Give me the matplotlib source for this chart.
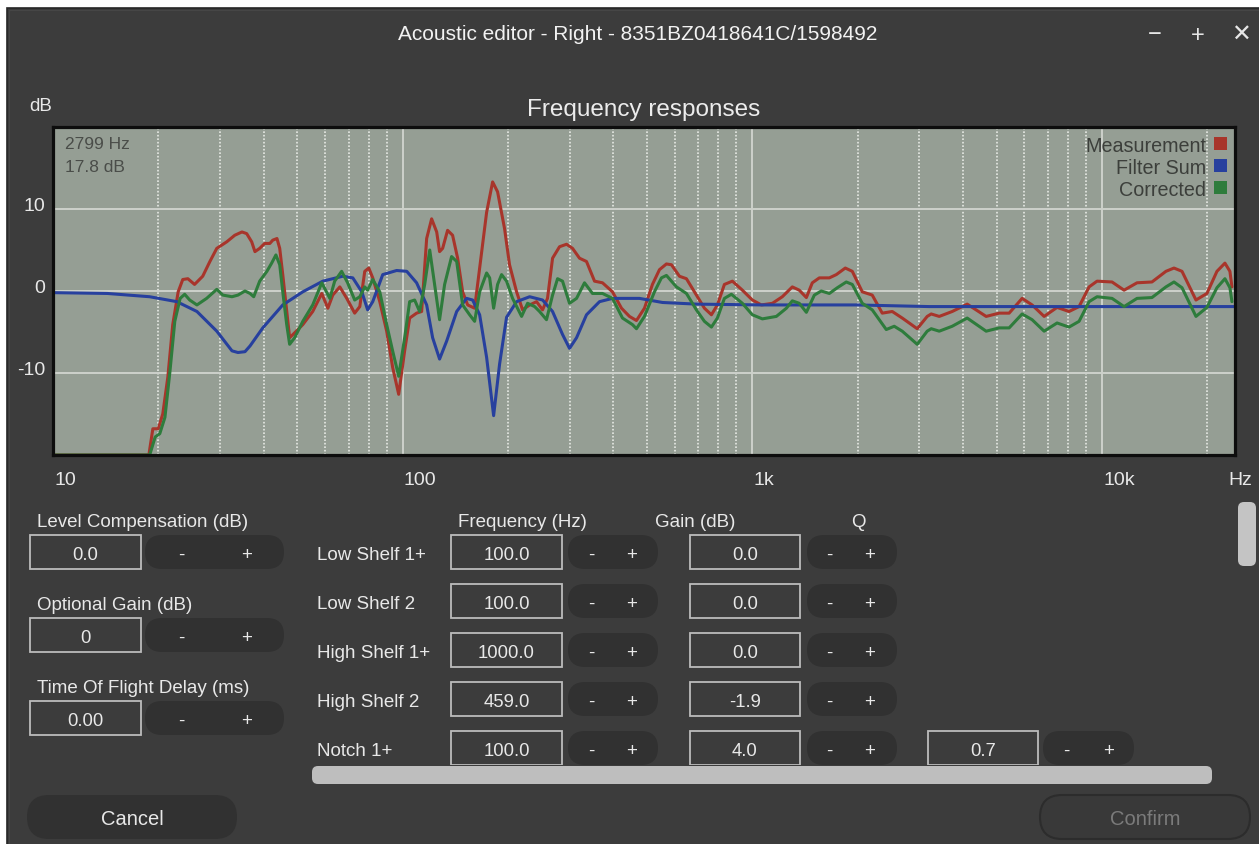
import numpy as np
import matplotlib
matplotlib.use("Agg")
import matplotlib.pyplot as plt
from matplotlib.patches import Rectangle, FancyBboxPatch
from matplotlib.ticker import NullFormatter
import matplotlib.transforms as mtransforms

plt.rcParams['font.family'] = ['Liberation Sans', 'DejaVu Sans']

# ---------------------------------------------------------------- data
# (frequency Hz, level dB)
measurement = [
    (10, -20), (18.8, -20), (19.3, -16.8), (20.0, -16.8), (20.6, -15.0), (21.3, -10.5), (22.0, -4.1),
    (22.8, -0.1), (23.5, 1.4), (24.3, 1.5), (25.4, 0.8), (26.8, 1.8), (28.1, 3.6), (29.4, 5.2),
    (31.4, 6.0), (33.1, 6.8), (34.7, 7.2), (35.8, 7.0), (37.0, 6.0), (37.8, 4.8), (39.0, 5.2),
    (40.3, 5.8), (41.7, 5.8), (42.5, 6.2), (43.7, 6.4), (44.5, 5.2), (45.4, 2.0), (46.6, -2.5),
    (47.5, -5.7), (49.1, -5.1), (51.8, -4.1), (55.3, -2.5), (58.7, -0.3), (61.1, -2.1), (63.1, -0.5),
    (66.1, 0.5), (69.2, -0.9), (72.9, -2.7), (75.4, -1.9), (77.9, 2.4), (80.0, 2.8), (82.1, 1.6),
    (86.0, -1.3), (90.0, -4.9), (93.6, -9.3), (97.4, -12.6), (101.3, -7.3), (104.7, -3.3),
    (109.6, -2.7), (113.3, -2.5), (117.1, 6.4), (121.0, 8.8), (125.1, 7.2), (127.5, 4.8),
    (130.1, 5.2), (134.4, 7.4), (138.9, 6.8), (143.6, 4.0), (148.4, -0.1), (153.4, -1.7),
    (160.6, -2.1), (166.0, 2.8), (173.8, 9.6), (180.8, 13.3), (186.8, 12.1), (195.6, 7.6),
    (202.1, 3.2), (211.7, -0.1), (220.2, -2.3), (230.7, -1.7), (241.5, -1.3), (251.2, -2.3),
    (259.5, -0.9), (268.3, 4.0), (280.9, 5.4), (294.2, 5.7), (306.0, 5.2), (320.4, 4.0),
    (335.5, 3.6), (353.7, 1.2), (372.8, 1.0), (398.1, -0.1), (422.4, -2.1), (445.2, -3.1),
    (466.2, -3.6), (491.4, -2.1), (517.9, 0.8), (542.4, 2.6), (567.9, 3.3), (587.0, 3.2),
    (618.7, 1.8), (647.8, 1.5), (691.8, -0.5), (729.3, -2.1), (763.7, -2.9), (794.3, -1.7),
    (831.8, 0.8), (876.8, 1.2), (936.4, 0.1), (1000, -1.1), (1061, -1.7), (1141, -1.5),
    (1218, -0.7), (1301, 0.5), (1362, 0.1), (1427, -0.8), (1484, 1.0), (1554, 1.6), (1660, 1.6),
    (1738, 2.0), (1844, 2.8), (1931, 2.4), (2062, -0.1), (2202, -0.5), (2352, -2.7), (2512, -2.5),
    (2683, -3.3), (2961, -4.6), (3162, -3.1), (3247, -2.8), (3423, -3.1), (3728, -2.5),
    (4115, -1.6), (4662, -3.1), (5079, -2.7), (5424, -2.7), (5908, -0.9), (6310, -1.7),
    (6829, -3.1), (7437, -2.0), (8046, -2.5), (8596, -1.9), (9182, 0.5), (9676, 1.2),
    (10680, 1.1), (11560, 0.1), (12590, 1.0), (13890, 1.1), (15230, 2.4), (16060, 2.8),
    (16930, 2.4), (18560, -1.1), (19950, -0.3), (21310, 2.4), (22460, 3.4), (23210, 2.4),
    (23520, 0.5),
]

filter_sum = [
    (10, -0.2), (14.3, -0.3), (18.9, -0.7), (22.6, -1.3), (25.8, -2.5), (29.4, -4.9), (32.5, -7.3),
    (33.8, -7.5), (35.4, -7.4), (36.6, -6.7), (39.8, -4.5), (45.4, -1.7), (51.8, -0.1), (59.1, 1.2),
    (67.4, 1.8), (72.0, 1.6), (76.4, -0.1), (79.4, -2.3), (82.1, -1.3), (87.7, 2.0), (96.1, 2.5),
    (102.7, 2.4), (109.6, 1.0), (117.1, -1.7), (121.8, -5.7), (127.5, -8.3), (133.6, -6.1),
    (142.7, -2.5), (152.3, -0.9), (158.5, -1.1), (166.0, -2.9), (173.8, -8.1), (182.0, -15.2),
    (189.3, -8.9), (198.2, -3.2), (211.7, -1.3), (230.7, -0.7), (251.2, -1.1), (268.3, -2.5),
    (286.5, -5.3), (300.0, -7.0), (314.2, -5.7), (335.5, -2.9), (365.5, -1.3), (398.1, -0.9),
    (475.5, -0.9), (553.3, -1.4), (691.8, -1.6), (1068, -1.7), (1982, -1.7), (3204, -1.9),
    (24000, -1.9),
]

corrected = [
    (10, -20), (18.9, -20), (19.6, -17.8), (20.2, -17.4), (20.9, -15.4), (21.6, -9.8), (22.3, -3.7),
    (23.1, -0.9), (23.8, -0.4), (24.6, -1.1), (25.8, -1.7), (27.5, -0.9), (29.4, 0.2), (30.6, -0.5),
    (32.5, -0.7), (33.8, -0.5), (35.4, 0.0), (36.6, -0.3), (37.5, -0.7), (39.0, 1.2), (40.9, 2.4),
    (42.2, 3.4), (43.4, 4.4), (44.5, 3.2), (45.4, -0.1), (46.6, -4.1), (47.5, -6.5), (49.1, -5.7),
    (51.8, -3.7), (55.3, -1.7), (58.7, 1.0), (61.9, -0.9), (63.9, 1.2), (66.9, 2.4), (69.6, 1.0),
    (72.9, -1.1), (75.4, -0.7), (77.9, 0.5), (79.4, 0.1), (82.1, 1.4), (86.0, -0.1), (90.0, -4.1),
    (93.6, -7.3), (97.4, -10.4), (101.3, -5.7), (104.7, -1.3), (108.2, -1.1), (111.8, -2.5),
    (115.6, 0.8), (119.5, 5.0), (123.4, 0.8), (127.5, -3.5), (131.8, 0.8), (138.0, 4.2),
    (142.7, 3.6), (148.4, -1.7), (155.4, -2.9), (160.6, -3.7), (166.0, -0.1), (173.8, 2.2),
    (177.3, 1.6), (182.0, -2.1), (186.8, 0.8), (191.8, 2.0), (198.2, 1.2), (206.2, -0.9),
    (218.8, -3.1), (227.6, -1.5), (238.4, -1.9), (246.3, -2.5), (257.8, -3.5), (268.3, -0.5),
    (277.3, 1.5), (286.5, 1.2), (300.0, -1.5), (314.2, -0.9), (331.1, 1.0), (349.0, -0.3),
    (372.8, -0.3), (398.1, -0.9), (425.2, -3.3), (454.1, -4.1), (466.2, -4.6), (491.4, -3.1),
    (524.8, -0.1), (549.5, 1.6), (567.9, 1.9), (606.6, 0.5), (647.8, -0.3), (691.8, -2.3),
    (729.3, -3.7), (763.7, -4.4), (794.3, -3.3), (831.8, -0.9), (871.0, -0.4), (936.4, -1.5),
    (1000, -2.9), (1068, -3.4), (1171, -3.1), (1251, -2.1), (1301, -1.2), (1362, -1.5),
    (1427, -2.6), (1504, -0.5), (1574, 0.0), (1660, -0.3), (1750, 0.4), (1856, 1.1), (1931, 0.8),
    (2062, -1.5), (2202, -2.3), (2415, -4.7), (2545, -4.3), (2683, -4.9), (2961, -6.5),
    (3162, -4.9), (3247, -4.6), (3423, -4.9), (3728, -4.3), (4115, -3.3), (4662, -4.9),
    (5079, -4.5), (5424, -4.5), (5908, -2.8), (6310, -3.5), (6829, -4.9), (7437, -3.9),
    (8046, -4.4), (8596, -3.7), (9182, -1.3), (9676, -0.7), (10680, -0.9), (11560, -1.9),
    (12590, -0.9), (13890, -0.8), (15230, 0.5), (16060, 1.1), (16930, 0.4), (18560, -3.1),
    (19950, -2.0), (21310, 0.4), (22460, 1.5), (23210, 0.4), (23520, -1.3),
]

series_names = ["Measurement", "Filter Sum", "Corrected"]
series_colors = ["#a8352b", "#27409e", "#2e7c3c"]

major_freqs = [10, 100, 1000, 10000]
major_labels = ["10", "100", "1k", "10k"]
minor_freqs = [20, 30, 40, 50, 60, 70, 80, 90, 200, 300, 400, 500, 600, 700, 800, 900,
               2000, 3000, 4000, 5000, 6000, 7000, 8000, 9000, 20000]
db_ticks = [-10, 0, 10]
db_labels = ["-10", "0", "10"]

cursor_text = ["2799 Hz", "17.8 dB"]
window_title = "Acoustic editor - Right - 8351BZ0418641C/1598492"
chart_title = "Frequency responses"

settings_labels = ["Level Compensation (dB)", "Optional Gain (dB)", "Time Of Flight Delay (ms)"]
settings_values = ["0.0", "0", "0.00"]

filter_names = ["Low Shelf 1+", "Low Shelf 2", "High Shelf 1+", "High Shelf 2", "Notch 1+"]
filter_freq_text = ["100.0", "100.0", "1000.0", "459.0", "100.0"]
filter_gain_text = ["0.0", "0.0", "0.0", "-1.9", "4.0"]
filter_q_text = ["", "", "", "", "0.7"]
column_headers = ["Frequency (Hz)", "Gain (dB)", "Q"]

# ---------------------------------------------------------------- style
W, H = 1259, 845
BG = "#3c3c3c"
PILL = "#313131"
FG = "#e8e8e8"
PLOT_BG = "#959e94"

fig = plt.figure(figsize=(W / 100, H / 100), dpi=100, facecolor="white")

ui = fig.add_axes([0, 0, 1, 1], zorder=0)
ui.set_xlim(0, W)
ui.set_ylim(H, 0)
ui.axis("off")

PX = 100 / 72.0


def txt(axis, x, yc, s, size=13.5, color=FG, ha="left", **kw):
    """place text so that its cap-height is centred on yc (pixel coords)"""
    return axis.text(x, yc + 0.36 * size * PX, s, fontsize=size, color=color,
                     ha=ha, va="baseline", **kw)


# window
ui.add_patch(Rectangle((7, 9), W + 20, H + 20, facecolor=BG, edgecolor="#262626", lw=1.2))
ui.add_patch(Rectangle((9, 11), W + 20, H + 20, facecolor="none", edgecolor="#464646", lw=0.8))

# title bar
txt(ui, 638, 33, window_title, size=15, color="#f2f2f2", ha="center")
for sym, x in zip(["\u2212", "+", "\u2715"], [1155, 1198, 1241]):
    txt(ui, x, 33, sym, size=17, color="#e6e6e6", ha="center")

txt(ui, 29, 104, "dB", size=13.5, color=FG)
txt(ui, 644, 107, chart_title, size=17.5, color="#ececec", ha="center")

# ---------------------------------------------------------------- chart
L, R, T, B = 53, 1235, 128, 456
ax = fig.add_axes([L / W, 1 - B / H, (R - L) / W, (B - T) / H], zorder=1)
ax.set_facecolor(PLOT_BG)
ax.set_xscale("log")
ax.set_xlim(10, 24000)
ax.set_ylim(-20, 20)

ax.set_xticks(major_freqs)
ax.set_xticks(minor_freqs, minor=True)
ax.xaxis.set_major_formatter(NullFormatter())
ax.xaxis.set_minor_formatter(NullFormatter())
ax.set_yticks(db_ticks)
ax.yaxis.set_major_formatter(NullFormatter())
ax.tick_params(which="both", length=0)
ax.grid(True, which="major", color="#cdd1cb", lw=1.4)
ax.grid(True, which="minor", axis="x", color="#e6e9e4", lw=1.2, ls=(0, (1, 1.1)))
ax.set_axisbelow(True)
for sp in ax.spines.values():
    sp.set_color("#0d0d0d")
    sp.set_linewidth(2.3)

for data, name, col in zip([measurement, filter_sum, corrected], series_names, series_colors):
    f = [p[0] for p in data]
    d = [p[1] for p in data]
    ax.plot(f, d, color=col, lw=2.2, solid_joinstyle="round", solid_capstyle="round", label=name)

xlab_tr = mtransforms.offset_copy(ax.get_xaxis_transform(), fig=fig, x=1, y=-29, units="dots")
for f, s in zip(major_freqs, major_labels):
    ax.text(f, 0, s, transform=xlab_tr, ha="left", va="baseline", fontsize=14,
            color=FG, clip_on=False)
ylab_tr = mtransforms.offset_copy(ax.get_yaxis_transform(), fig=fig, x=-8, y=-1, units="dots")
for v, s in zip(db_ticks, db_labels):
    ax.text(0, v, s, transform=ylab_tr, ha="right", va="baseline", fontsize=14,
            color=FG, clip_on=False)
txt(ui, 1240, 478, "Hz", size=14, ha="center")

# overlay (cursor read-out and legend)
ov = fig.add_axes([0, 0, 1, 1], zorder=2)
ov.set_xlim(0, W)
ov.set_ylim(H, 0)
ov.axis("off")
ov.patch.set_alpha(0)

for i, s in enumerate(cursor_text):
    txt(ov, 65, 143 + 23 * i, s, size=12.5, color="#4a4d49")

for i, (name, col) in enumerate(zip(series_names, series_colors)):
    yc = 144.5 + 22 * i
    txt(ov, 1206, yc, name, size=14.2, color="#3c3f3b", ha="right")
    ov.add_patch(Rectangle((1214, yc - 6.5), 13, 13, facecolor=col, edgecolor="none"))

# ---------------------------------------------------------------- controls
clip_rect = Rectangle((0, 0), W, 766, transform=ui.transData)


def input_box(x0, w, yc, s, clip=False):
    r = Rectangle((x0, yc - 17), w, 34, facecolor=BG, edgecolor="#bcbcbc", lw=1.3)
    ui.add_patch(r)
    t = txt(ui, x0 + w / 2, yc, s, size=13.3, ha="center")
    if clip:
        r.set_clip_path(clip_rect)
        t.set_clip_path(clip_rect)


def stepper(x0, w, yc, xm, xp, clip=False):
    p = FancyBboxPatch((x0, yc - 17), w, 34, boxstyle="round,pad=0,rounding_size=17",
                       facecolor=PILL, edgecolor="none")
    ui.add_patch(p)
    t1 = txt(ui, xm, yc, "-", size=13.5, ha="center")
    t2 = txt(ui, xp, yc, "+", size=13.5, ha="center")
    if clip:
        for a in (p, t1, t2):
            a.set_clip_path(clip_rect)


# left column
for i, (lab, val) in enumerate(zip(settings_labels, settings_values)):
    yc = 553 + 83 * i
    txt(ui, 37, yc - 33, lab, size=13.5)
    input_box(30, 111, yc, val)
    stepper(145, 139, yc, 181, 247)

# filter table
txt(ui, 522, 520, column_headers[0], size=13.5, ha="center")
txt(ui, 695, 520, column_headers[1], size=13.5, ha="center")
txt(ui, 858, 520, column_headers[2], size=13.5, ha="center")

for i, name in enumerate(filter_names):
    yc = 553 + 49 * i
    clip = i == len(filter_names) - 1
    txt(ui, 317, yc, name, size=13.5)
    input_box(451, 111, yc, filter_freq_text[i], clip)
    stepper(568, 90, yc, 591, 632, clip)
    input_box(690, 110, yc, filter_gain_text[i], clip)
    stepper(807, 90, yc, 829, 870, clip)
    if filter_q_text[i]:
        input_box(928, 110, yc, filter_q_text[i], clip)
        stepper(1043, 91, yc, 1066, 1109, clip)

# scrollbars
ui.add_patch(FancyBboxPatch((312, 767), 900, 18, boxstyle="round,pad=0,rounding_size=6",
                            facecolor="#bebebe", edgecolor="none"))
ui.add_patch(FancyBboxPatch((1238, 503), 18, 64, boxstyle="round,pad=0,rounding_size=6",
                            facecolor="#c4c4c4", edgecolor="none"))

# bottom buttons
ui.add_patch(FancyBboxPatch((27, 796), 210, 44, boxstyle="round,pad=0,rounding_size=22",
                            facecolor=PILL, edgecolor="none"))
txt(ui, 132, 818, "Cancel", size=14.5, ha="center")
ui.add_patch(FancyBboxPatch((1040, 796), 210, 44, boxstyle="round,pad=0,rounding_size=22",
                            facecolor="#393939", edgecolor="#2c2c2c", lw=1.5))
txt(ui, 1145, 818, "Confirm", size=14.5, color="#7b7b7b", ha="center")

fig.savefig("out.png", dpi=100, facecolor=fig.get_facecolor())
